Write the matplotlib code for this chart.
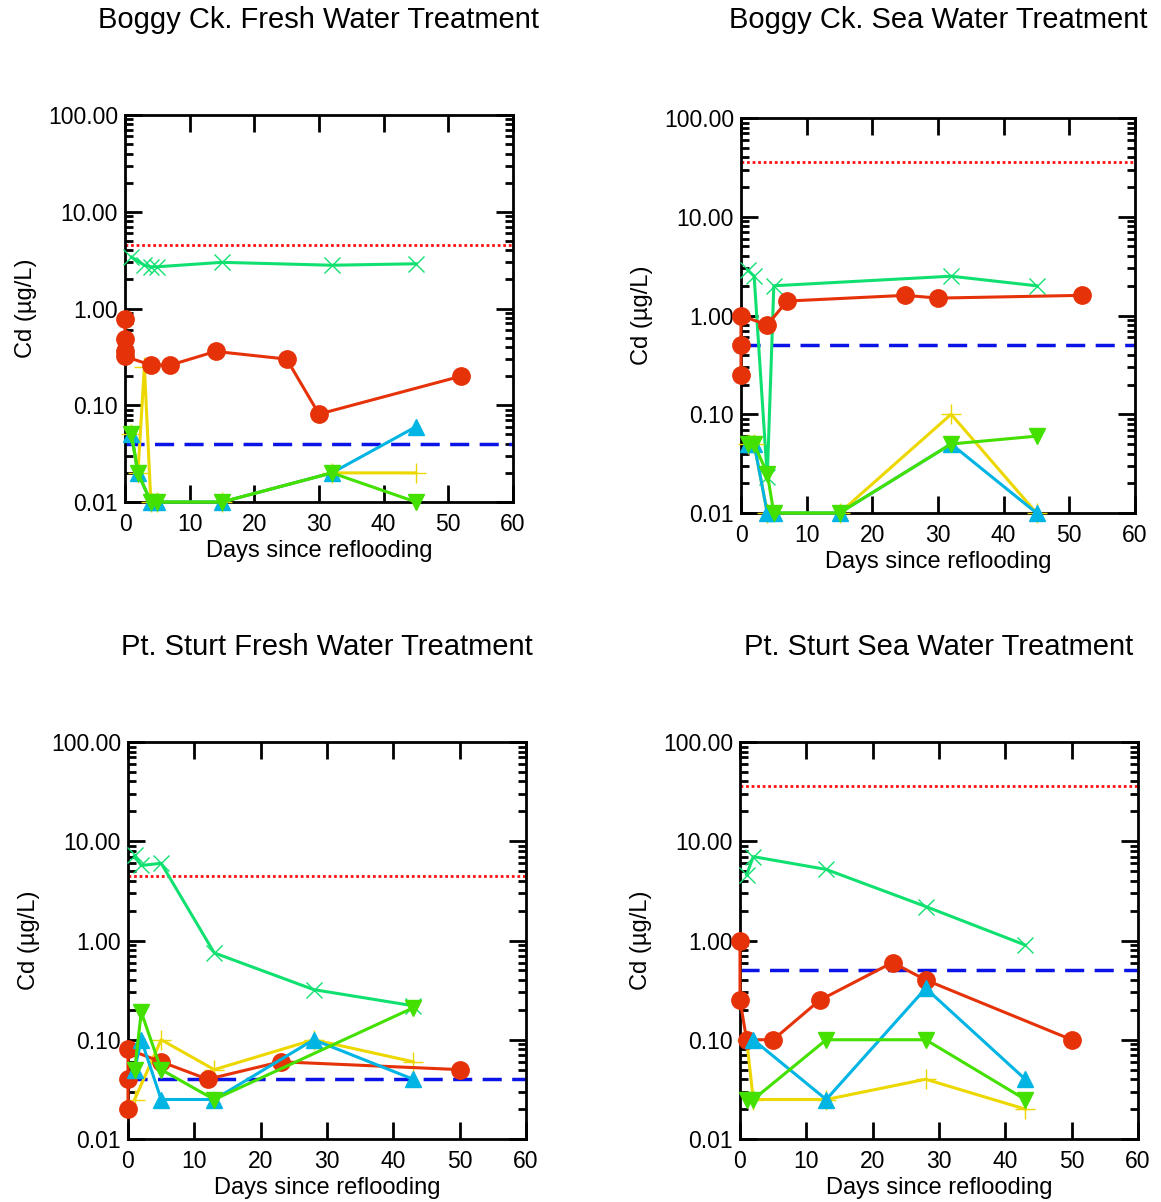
import matplotlib
matplotlib.use("Agg")
import matplotlib.pyplot as plt
from matplotlib.ticker import LogLocator, FixedLocator, FormatStrFormatter, NullFormatter

plt.rcParams['font.family'] = ['Liberation Sans', 'DejaVu Sans']

# panel titles
titles = ["Boggy Ck. Fresh Water Treatment", "Boggy Ck. Sea Water Treatment",
          "Pt. Sturt Fresh Water Treatment", "Pt. Sturt Sea Water Treatment"]

# guideline lines (red dotted, blue dashed) per panel
red_limit = [4.5, 36, 4.5, 36]
blue_limit = [0.04, 0.5, 0.04, 0.5]

# green crosses
gx_days = [[1, 3, 4, 5, 15, 32, 45],
           [1, 2, 4, 5, 32, 45],
           [1, 2, 5, 13, 28, 43],
           [1, 2, 13, 28, 43]]
gx_vals = [[3.4, 2.8, 2.7, 2.7, 3.0, 2.8, 2.9],
           [2.9, 2.5, 0.023, 2.0, 2.5, 2.0],
           [7.2, 5.7, 6.0, 0.75, 0.32, 0.22],
           [4.6, 7.0, 5.2, 2.2, 0.9]]

# red circles
rc_days = [[0, 0, 0, 0, 4, 7, 14, 25, 30, 52],
           [0, 0, 0, 4, 7, 25, 30, 52],
           [0, 0, 0, 5, 12, 23, 50],
           [0, 0, 1, 5, 12, 23, 28, 50]]
rc_vals = [[0.77, 0.48, 0.36, 0.32, 0.26, 0.26, 0.36, 0.30, 0.081, 0.20],
           [0.25, 0.5, 1.0, 0.8, 1.4, 1.6, 1.5, 1.6],
           [0.02, 0.04, 0.08, 0.06, 0.04, 0.06, 0.05],
           [1.0, 0.25, 0.1, 0.1, 0.25, 0.6, 0.4, 0.1]]

# yellow plus
yp_days = [[1, 2, 3, 4, 5, 15, 32, 45],
           [1, 2, 4, 15, 32, 45],
           [1, 5, 13, 28, 43],
           [1, 2, 13, 28, 43]]
yp_vals = [[0.05, 0.02, 0.25, 0.01, 0.01, 0.01, 0.02, 0.02],
           [0.05, 0.05, 0.01, 0.01, 0.1, 0.01],
           [0.025, 0.1, 0.05, 0.1, 0.06],
           [0.1, 0.025, 0.025, 0.04, 0.02]]

# blue triangles up
bt_days = [[1, 2, 4, 5, 15, 32, 45],
           [1, 2, 4, 5, 15, 32, 45],
           [1, 2, 5, 13, 28, 43],
           [2, 13, 28, 43]]
bt_vals = [[0.05, 0.02, 0.01, 0.01, 0.01, 0.02, 0.06],
           [0.05, 0.05, 0.01, 0.01, 0.01, 0.05, 0.01],
           [0.05, 0.1, 0.025, 0.025, 0.1, 0.04],
           [0.1, 0.025, 0.33, 0.04]]

# green triangles down
gt_days = [[1, 2, 4, 5, 15, 32, 45],
           [1, 2, 4, 5, 15, 32, 45],
           [1, 2, 5, 13, 43],
           [1, 2, 13, 28, 43]]
gt_vals = [[0.05, 0.02, 0.01, 0.01, 0.01, 0.02, 0.01],
           [0.05, 0.05, 0.025, 0.01, 0.01, 0.05, 0.06],
           [0.05, 0.19, 0.05, 0.025, 0.21],
           [0.025, 0.025, 0.1, 0.1, 0.025]]

W, H = 1161, 1202
# axes boxes in pixels: left, top, right, bottom
boxes = [(125, 115, 513, 502), (741, 118, 1135, 513),
         (128, 742, 526, 1139), (740, 742, 1138, 1139)]
title_y = [20, 20, 647, 647]

fig = plt.figure(figsize=(W / 100, H / 100), dpi=100)

for i in range(4):
    l, t, r, b = boxes[i]
    ax = fig.add_axes([l / W, 1 - b / H, (r - l) / W, (b - t) / H])
    ax.set_yscale('log')
    ax.set_xlim(0, 60)
    ax.set_ylim(0.01, 100)

    ax.axhline(red_limit[i], color='#ff1010', lw=2, ls=(0, (1, 1)), zorder=2)
    ax.axhline(blue_limit[i], color='#0a14e6', lw=2.5, ls=(0, (5.5, 3)), zorder=2)

    ax.plot(gx_days[i], gx_vals[i], color='#10e070', lw=2.2, marker='x',
            ms=11, mew=1, zorder=3, clip_on=False)
    ax.plot(rc_days[i], rc_vals[i], color='#e63208', lw=2.2, marker='o',
            ms=12.5, zorder=4, clip_on=False)
    ax.plot(yp_days[i], yp_vals[i], color='#ecd800', lw=2.2, marker='+',
            ms=15, mew=1, zorder=3, clip_on=False)
    ax.plot(bt_days[i], bt_vals[i], color='#00b4e4', lw=2.2, marker='^',
            ms=12, zorder=5, clip_on=False)
    ax.plot(gt_days[i], gt_vals[i], color='#44e000', lw=2.2, marker='v',
            ms=12, zorder=6, clip_on=False)

    ax.xaxis.set_major_locator(FixedLocator([0, 10, 20, 30, 40, 50, 60]))
    ax.yaxis.set_major_locator(FixedLocator([0.01, 0.1, 1, 10, 100]))
    ax.yaxis.set_major_formatter(FormatStrFormatter('%.2f'))
    ax.yaxis.set_minor_locator(LogLocator(base=10, subs=range(2, 10)))
    ax.yaxis.set_minor_formatter(NullFormatter())
    ax.tick_params(which='both', direction='in', top=True, right=True,
                   labelsize=16.5, width=2, colors='black')
    ax.tick_params(which='major', length=12)
    ax.tick_params(axis='x', which='major', pad=8)
    ax.tick_params(axis='y', which='major', pad=5)
    ax.tick_params(which='minor', length=6)
    ax.tick_params(axis='x', which='minor', length=0)
    for s in ax.spines.values():
        s.set_linewidth(2)

    ax.set_xlabel('Days since reflooding', fontsize=17, labelpad=3)
    ax.set_ylabel('Cd (µg/L)', fontsize=17, labelpad=8)

    fig.text((l + r) / 2 / W, 1 - title_y[i] / H, titles[i], fontsize=21,
             ha='center', va='center')

fig.savefig('out.png', dpi=100)
